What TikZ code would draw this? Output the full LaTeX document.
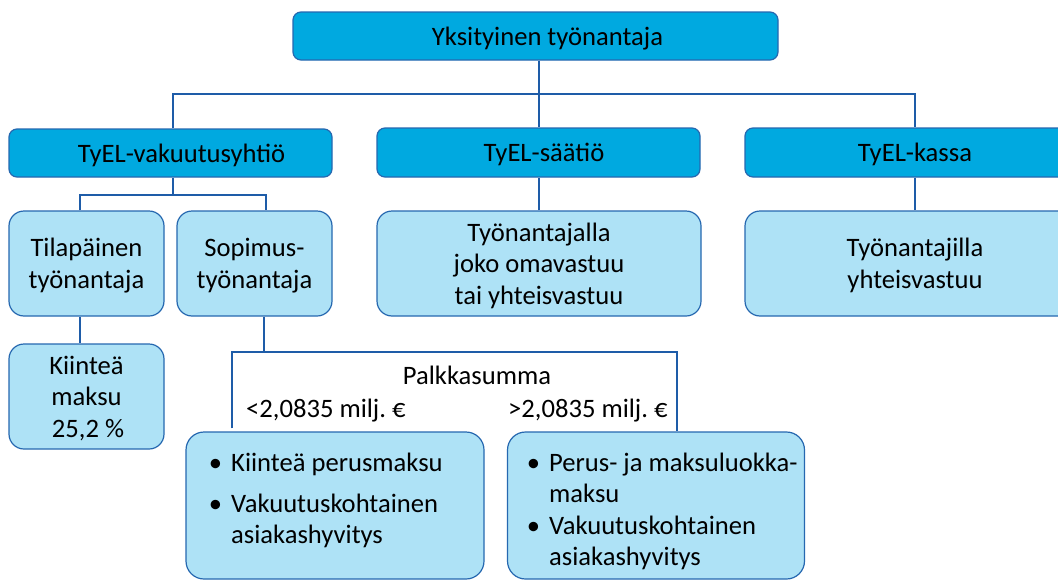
\documentclass[tikz,border=0pt]{standalone}
\usepackage{fontspec}
\setmainfont{Carlito}
\definecolor{darkc}{RGB}{0,169,224}
\definecolor{lightc}{RGB}{174,226,246}
\definecolor{bordc}{RGB}{38,104,176}
\definecolor{connc}{RGB}{30,92,168}
\newcommand{\bul}{\makebox[0pt][r]{\textbullet\hspace{9pt}}}
\tikzset{
  txtfont/.style={font=\fontsize{26.6}{31.5}\selectfont},
  darkbox/.style={draw=bordc, line width=1.2pt, fill=darkc, rounded corners=8pt, inner sep=0pt, text depth=0pt, txtfont},
  lightbox/.style={draw=bordc, line width=1.2pt, fill=lightc, rounded corners=15pt, inner sep=0pt, align=center, text depth=0pt, txtfont},
  bigbox/.style={draw=bordc, line width=1.2pt, fill=lightc, rounded corners=18pt, inner sep=0pt},
  conn/.style={draw=connc, line width=2.8pt},
  lbl/.style={inner sep=0pt, txtfont}
}
\begin{document}
\begin{tikzpicture}[x=1pt,y=-1pt]
\clip (0,0) rectangle (1058,581);
\fill[white] (0,0) rectangle (1058,581);

\coordinate (hA) at (539,94);
\coordinate (hB) at (173,195);
\coordinate (hC) at (264,352);

% level 0
\node[darkbox, minimum width=485, minimum height=48] (top) at (535.5,36) {\hspace*{24pt}Yksityinen työnantaja};
% level 1
\node[darkbox, minimum width=323, minimum height=48] (vak) at (170.5,153) {\hspace*{22pt}TyEL-vakuutusyhtiö};
\node[darkbox, minimum width=323, minimum height=49] (saa) at (538.5,152.5) {\hspace*{11pt}TyEL-säätiö};
\node[darkbox, minimum width=340, minimum height=49] (kas) at (915,152.5) {TyEL-kassa};
% level 2
\node[lightbox, minimum width=155, minimum height=105] (til) at (86.5,263.5) {Tilapäinen\\työnantaja};
\node[lightbox, minimum width=155, minimum height=105] (sop) at (254.5,263.5) {Sopimus-\\työnantaja};
\node[lightbox, minimum width=324, minimum height=105] (sat2) at (539,263.5) {Työnantajalla\\joko omavastuu\\tai yhteisvastuu};
\node[lightbox, minimum width=340, minimum height=105] (kas2) at (915,263.5) {Työnantajilla\\yhteisvastuu};
% level 3
\node[lightbox, minimum width=155, minimum height=105] (kii) at (86.5,396.5) {Kiinteä\\maksu\\\hspace*{3pt}25,2 \%};
\node[bigbox, minimum width=298, minimum height=147] (bl) at (335,505.5) {};
\node[bigbox, minimum width=297, minimum height=147] (br) at (656,505.5) {};

% connector lines
\draw[conn] (top.south -| hA) -- (saa.north -| hA);
\draw[conn] ([xshift=2.5pt]vak.north) |- (hA) -| (kas.north);
\draw[conn] (vak.south -| hB) -- (hB);
\draw[conn] ([xshift=-6.5pt]til.north) |- (hB) -| ([xshift=11.5pt]sop.north);
\draw[conn] ([xshift=-6.5pt]til.south) -- ([xshift=-6.5pt]kii.north);
\draw[conn] (sat2.north -| hA) -- (saa.south -| hA);
\draw[conn] (kas.south) -- (kas2.north);
\draw[conn] ([xshift=9.5pt]sop.south) -- (hC);
\draw[conn] ([xshift=-103pt,yshift=3pt]bl.north) |- (hC) -| ([xshift=21pt]br.north);

% labels
\node[lbl, anchor=base] (pal) at (477,384) {Palkkasumma};
\node[lbl, anchor=base west] (lo) at (246,417) {<2,0835 milj.\ €};
\node[lbl, anchor=base west] (hi) at (508,417) {>2,0835 milj.\ €};

% bullet texts
\node[lbl, anchor=base west] (blt) at (231,471) {\begin{tabular}[t]{@{}l@{}}\bul Kiinteä perusmaksu\\[9.5pt]\bul Vakuutuskohtainen\\asiakashyvitys\end{tabular}};
\node[lbl, anchor=base west] (brt) at (549,471) {\begin{tabular}[t]{@{}l@{}}\bul Perus- ja maksuluokka-\\maksu\\\bul Vakuutuskohtainen\\asiakashyvitys\end{tabular}};
\end{tikzpicture}
\end{document}
